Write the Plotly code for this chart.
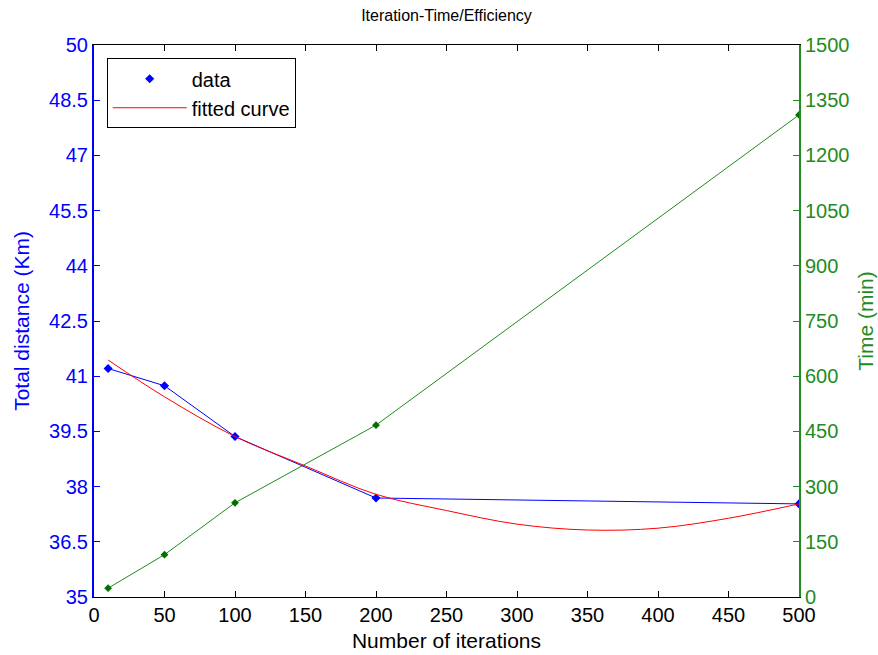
import plotly.graph_objects as go

iterations = [10, 50, 100, 200, 500]
distance_km = [41.21, 40.74, 39.36, 37.69, 37.53]
time_min = [24, 115, 256, 467, 1310]

fit_x = [10, 50, 100, 150, 200, 250, 300, 350, 400, 450, 500]
fit_y = [41.44, 40.44, 39.36, 38.56, 37.79, 37.35, 36.98, 36.82, 36.87, 37.14, 37.53]

left_ticks = [35, 36.5, 38, 39.5, 41, 42.5, 44, 45.5, 47, 48.5, 50]
right_ticks = [0, 150, 300, 450, 600, 750, 900, 1050, 1200, 1350, 1500]
x_ticks = [0, 50, 100, 150, 200, 250, 300, 350, 400, 450, 500]

BLUE = "#0000ff"
GREEN = "#1e8c1e"
RED = "#ff0000"
FONT = "Liberation Sans"

fig = go.Figure()
fig.add_trace(go.Scatter(x=iterations, y=distance_km, mode="lines",
                         line=dict(color=BLUE, width=1), showlegend=False, hoverinfo="skip"))
fig.add_trace(go.Scatter(x=iterations, y=distance_km, mode="markers", name="data",
                         marker=dict(color=BLUE, symbol="diamond", size=7)))
fig.add_trace(go.Scatter(x=fit_x, y=fit_y, mode="lines", name="fitted curve",
                         line=dict(color=RED, width=1, shape="spline")))
fig.add_trace(go.Scatter(x=iterations, y=time_min, mode="lines+markers", yaxis="y2",
                         line=dict(color=GREEN, width=1),
                         marker=dict(color="#007000", symbol="diamond", size=6), showlegend=False))

fig.update_layout(
    width=878, height=655,
    margin=dict(l=94, r=79, t=45, b=58, autoexpand=False),
    paper_bgcolor="white", plot_bgcolor="white",
    font=dict(family=FONT, size=20, color="black"),
    title=dict(text="Iteration-Time/Efficiency", x=0.5, xref="paper", xanchor="center",
               y=1, yref="container", yanchor="top", pad=dict(t=10), automargin=False,
               font=dict(family=FONT, size=16, color="black")),
    xaxis=dict(range=[0, 500], tickvals=x_ticks, ticks="inside", ticklen=6,
               showline=True, linecolor="black", linewidth=1, mirror="ticks",
               showgrid=False, zeroline=False, tickcolor="black", automargin=False,
               tickfont=dict(family=FONT, size=20, color="black"),
               title=dict(text="Number of iterations", standoff=8,
                          font=dict(family=FONT, size=21, color="black"))),
    yaxis=dict(range=[35, 50], tickvals=left_ticks, ticktext=[f"{v:g}" for v in left_ticks],
               ticks="inside", ticklen=6, automargin=False,
               showline=True, linecolor=BLUE, linewidth=2, tickcolor=BLUE,
               showgrid=False, zeroline=False,
               tickfont=dict(family=FONT, size=20, color=BLUE),
               title=dict(text="Total distance (Km)", standoff=14,
                          font=dict(family=FONT, size=21, color=BLUE))),
    yaxis2=dict(range=[0, 1500], tickvals=right_ticks, overlaying="y", side="right",
                ticks="inside", ticklen=6, automargin=False,
                showline=True, linecolor=GREEN, linewidth=2, tickcolor=GREEN,
                showgrid=False, zeroline=False,
                tickfont=dict(family=FONT, size=20, color=GREEN),
                title=dict(text="Time (min)", standoff=10,
                           font=dict(family=FONT, size=21, color=GREEN))),
    legend=dict(x=0.018, y=0.976, xanchor="left", yanchor="top",
                bgcolor="white", bordercolor="black", borderwidth=1,
                itemwidth=74, tracegroupgap=0,
                font=dict(family=FONT, size=20, color="black")),
    showlegend=True,
)

fig.write_html("out.html")
